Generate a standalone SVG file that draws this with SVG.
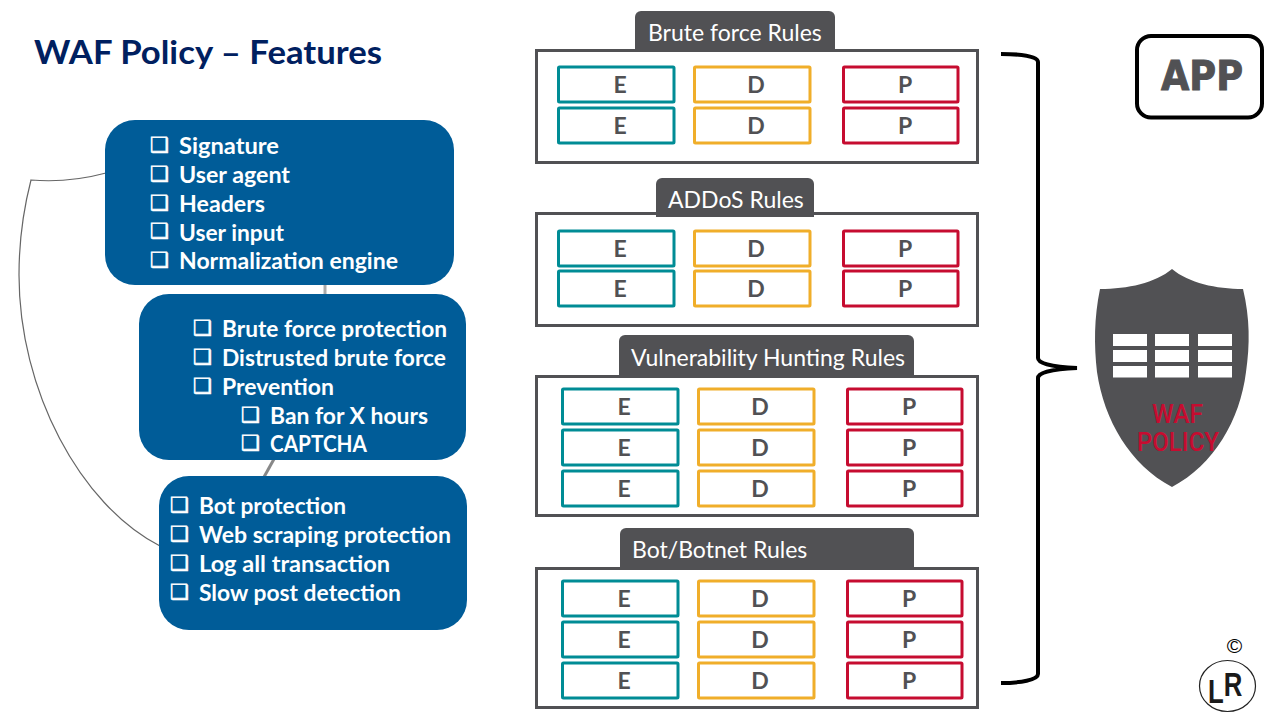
<svg xmlns="http://www.w3.org/2000/svg" width="1280" height="720" viewBox="0 0 1280 720">
<style>
text{font-family:"Lato","Open Sans","Liberation Sans",sans-serif}
.title{font-size:32px;font-weight:700;fill:#002060}
.blue{fill:#005c98}
.li{font-size:22.5px;font-weight:700;fill:#fff}
.bu{font-family:"DejaVu Sans",sans-serif;font-size:21px;fill:#fff;stroke:#fff;stroke-width:.6}
.frame{fill:#fff;stroke:#515154;stroke-width:3}
.tab{fill:#515154}
.tabt{font-size:23px;fill:#fff}
.c{fill:#fff;stroke-width:3}
.e{stroke:#008c95}.d{stroke:#f0ae2a}.p{stroke:#c60c30}
.l{font-size:23px;font-weight:700;fill:#515154;text-anchor:middle}
.conn{fill:none;stroke:#666;stroke-width:1.2}
.brace{fill:none;stroke:#000;stroke-width:4}
.waf{font-family:Roboto,sans-serif;font-weight:500;font-size:25px;fill:#c60c30}
.logo{font-family:'Liberation Sans',sans-serif;font-size:33px;font-weight:700;fill:#1a1a1a}
</style>
<defs>
<g id="cellE"><rect class="c e" x="558.500" y="0" width="115.500" height="35" rx="1"/><text class="l" x="620" y="26">E</text></g>
<g id="cellD"><rect class="c d" x="694.500" y="0" width="115.500" height="35" rx="1"/><text class="l" x="756" y="26">D</text></g>
<g id="cellP"><rect class="c p" x="843.500" y="0" width="114.500" height="35" rx="1"/><text class="l" x="905" y="26">P</text></g>
<g id="row"><use href="#cellE"/><use href="#cellD"/><use href="#cellP"/></g>
</defs>
<rect width="1280" height="720" fill="#fff"/>
<text class="title" x="34" y="64" textLength="348" lengthAdjust="spacingAndGlyphs">WAF Policy – Features</text>
<g id="connectors">
<path class="conn" d="M106 173C80 180 55 182 31 180C22 215 19 245 19 275C19 390 80 505 160 546"/>
<path d="M325 284V295" fill="none" stroke="#aaa" stroke-width="3"/>
<path d="M274 459L264 477" fill="none" stroke="#888" stroke-width="3"/>
<path class="brace" d="M1001 54C1020 54 1038 56 1038 62V358C1038 363 1050 367 1077 368C1050 369 1038 373 1038 378V674C1038 680 1020 683 1001 683"/>
</g>
<g id="node-signature">
<rect class="blue" x="105" y="120" width="349" height="165" rx="30"/>
<text class="bu" x="150" y="152">❑</text><text class="li" x="179" y="154" textLength="100" lengthAdjust="spacingAndGlyphs">Signature</text>
<text class="bu" x="150" y="181">❑</text><text class="li" x="179" y="183" textLength="111" lengthAdjust="spacingAndGlyphs">User agent</text>
<text class="bu" x="150" y="210">❑</text><text class="li" x="179" y="212" textLength="86" lengthAdjust="spacingAndGlyphs">Headers</text>
<text class="bu" x="150" y="238">❑</text><text class="li" x="179" y="241" textLength="105" lengthAdjust="spacingAndGlyphs">User input</text>
<text class="bu" x="150" y="267">❑</text><text class="li" x="179" y="269" textLength="219" lengthAdjust="spacingAndGlyphs">Normalization engine</text>
</g>
<g id="node-bruteforce">
<rect class="blue" x="139" y="294" width="327" height="166" rx="30"/>
<text class="bu" x="193" y="335">❑</text><text class="li" x="222" y="337" textLength="225" lengthAdjust="spacingAndGlyphs">Brute force protection</text>
<text class="bu" x="193" y="364">❑</text><text class="li" x="222" y="366" textLength="224" lengthAdjust="spacingAndGlyphs">Distrusted brute force</text>
<text class="bu" x="193" y="393">❑</text><text class="li" x="222" y="395" textLength="112" lengthAdjust="spacingAndGlyphs">Prevention</text>
<text class="bu" x="241" y="422">❑</text><text class="li" x="270" y="424" textLength="158" lengthAdjust="spacingAndGlyphs">Ban for X hours</text>
<text class="bu" x="241" y="450">❑</text><text class="li" x="270" y="452" textLength="97" lengthAdjust="spacingAndGlyphs">CAPTCHA</text>
</g>
<g id="node-bot">
<rect class="blue" x="159" y="476" width="308" height="154" rx="30"/>
<text class="bu" x="170" y="512">❑</text><text class="li" x="199" y="514" textLength="147" lengthAdjust="spacingAndGlyphs">Bot protection</text>
<text class="bu" x="170" y="541">❑</text><text class="li" x="199" y="543" textLength="252" lengthAdjust="spacingAndGlyphs">Web scraping protection</text>
<text class="bu" x="170" y="570">❑</text><text class="li" x="199" y="572" textLength="191" lengthAdjust="spacingAndGlyphs">Log all transaction</text>
<text class="bu" x="170" y="599">❑</text><text class="li" x="199" y="601" textLength="202" lengthAdjust="spacingAndGlyphs">Slow post detection</text>
</g>
<g id="node-brute-rules">
<rect class="frame" x="536.500" y="50.500" width="441" height="112"/>
<path class="tab" d="M635 50V17a6 6 0 0 1 6-6H829a6 6 0 0 1 6 6V50z"/>
<text class="tabt" x="648" y="41">Brute force Rules</text>
<use href="#row" y="67"/><use href="#row" y="108"/>
</g>
<g id="node-addos-rules">
<rect class="frame" x="536.500" y="213.500" width="441" height="112"/>
<path class="tab" d="M656 217V184a6 6 0 0 1 6-6H808a6 6 0 0 1 6 6V217z"/>
<text class="tabt" x="668" y="208">ADDoS Rules</text>
<use href="#row" y="231"/><use href="#row" y="271"/>
</g>
<g id="node-vuln-rules">
<rect class="frame" x="536.500" y="376.500" width="441" height="139"/>
<path class="tab" d="M619 376V341a6 6 0 0 1 6-6H908a6 6 0 0 1 6 6V376z"/>
<text class="tabt" x="631" y="366">Vulnerability Hunting Rules</text>
<use href="#row" x="4" y="389"/><use href="#row" x="4" y="430"/><use href="#row" x="4" y="471"/>
</g>
<g id="node-bot-rules">
<rect class="frame" x="536.500" y="568.500" width="441" height="139"/>
<path class="tab" d="M620 568V534a6 6 0 0 1 6-6H908a6 6 0 0 1 6 6V568z"/>
<text class="tabt" x="632" y="558">Bot/Botnet Rules</text>
<use href="#row" x="4" y="581"/><use href="#row" x="4" y="622"/><use href="#row" x="4" y="663"/>
</g>
<g id="node-app">
<rect x="1137" y="36" width="125" height="81.500" rx="14" fill="#fff" stroke="#000" stroke-width="4"/>
<text x="1161" y="90" textLength="82" lengthAdjust="spacingAndGlyphs" style="font-family:'DejaVu Sans',sans-serif;font-weight:700;font-size:40px;fill:#515154;stroke:#515154;stroke-width:1">APP</text>
</g>
<g id="node-waf">
<path fill="#515154" d="M1172 269C1155 283 1128 289 1100 289C1094 318 1094 345 1097 372C1104 420 1130 465 1172 487C1214 465 1240 420 1246 372C1250 345 1250 318 1243 289C1216 289 1189 283 1172 269z"/>
<g fill="#fff">
<rect x="1113" y="334" width="34" height="12"/><rect x="1155" y="334" width="34" height="12"/><rect x="1198" y="334" width="34" height="12"/>
<rect x="1113" y="350" width="34" height="12"/><rect x="1155" y="350" width="34" height="12"/><rect x="1198" y="350" width="34" height="12"/>
<rect x="1113" y="366" width="34" height="11.500"/><rect x="1155" y="366" width="34" height="11.500"/><rect x="1198" y="366" width="34" height="11.500"/>
</g>
<text class="waf" x="1152" y="423" textLength="51" lengthAdjust="spacingAndGlyphs">WAF</text>
<text class="waf" x="1137" y="451" textLength="82" lengthAdjust="spacingAndGlyphs">POLICY</text>
</g>
<g id="node-logo">
<text x="1234.500" y="653" text-anchor="middle" style="font-family:'Liberation Sans',sans-serif;font-size:21px;fill:#000">©</text>
<ellipse cx="1227.500" cy="686" rx="28" ry="25.500" fill="#fff" stroke="#222" stroke-width="1.200"/>
<text class="logo" transform="translate(1208 703) scale(.78 1)">L<tspan dy="-7">R</tspan></text>
</g>
</svg>
